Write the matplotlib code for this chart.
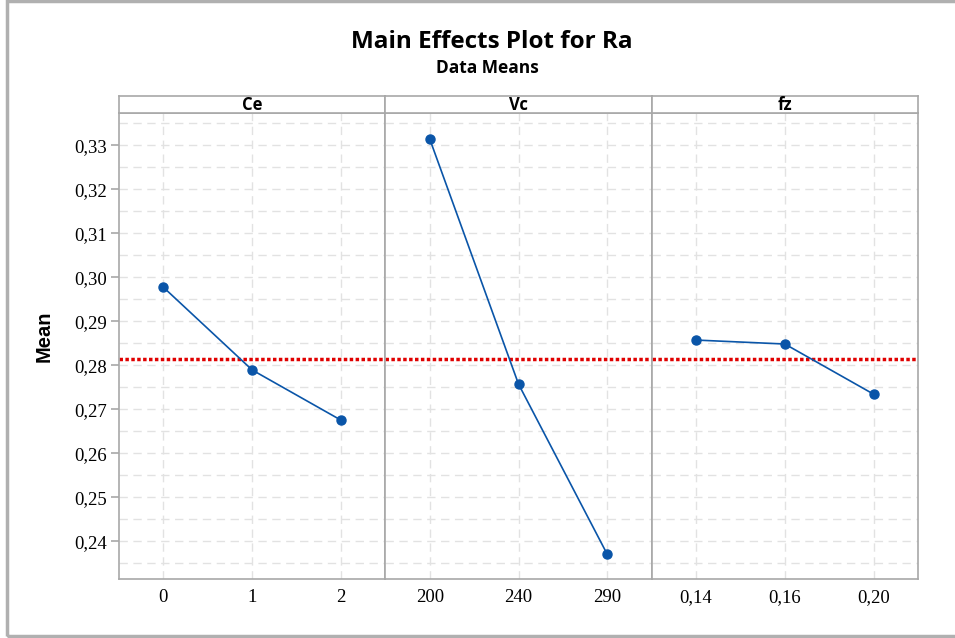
import matplotlib
matplotlib.use("Agg")
import matplotlib.pyplot as plt
from matplotlib.patches import Rectangle
import numpy as np

# ---- data ----
factors = ["Ce", "Vc", "fz"]
levels = {
    "Ce": ["0", "1", "2"],
    "Vc": ["200", "240", "290"],
    "fz": ["0,14", "0,16", "0,20"],
}
means = {
    "Ce": [0.2977, 0.2789, 0.2675],
    "Vc": [0.3314, 0.2757, 0.2370],
    "fz": [0.2857, 0.2848, 0.2734],
}
grand_mean = 0.2814
yticks = [0.24, 0.25, 0.26, 0.27, 0.28, 0.29, 0.30, 0.31, 0.32, 0.33]
ytick_labels = ["0,24", "0,25", "0,26", "0,27", "0,28", "0,29", "0,30", "0,31", "0,32", "0,33"]

W, H = 955, 638
fig = plt.figure(figsize=(W / 100, H / 100), dpi=100)

def fx(px):
    return px / W

def fy(py):
    return 1 - py / H

left, right = 119, 918
top, bottom = 113, 579
strip_top = 96
pw = (right - left) / 3

blue = "#0a55a8"
red = "#e00000"
spine_c = "#a8a8a8"
grid_c = "#e2e2e2"

# outer border
fig.patches.append(Rectangle((fx(7), fy(636)), 1.2, fy(1) - fy(636), transform=fig.transFigure,
                             fill=False, edgecolor="#b0b0b0", linewidth=2.5))

axes = []
for i, f in enumerate(factors):
    x0 = left + i * pw
    ax = fig.add_axes([fx(x0), fy(bottom), pw / W, (bottom - top) / H])
    axes.append(ax)
    x = np.arange(len(levels[f]))
    ax.set_xlim(-0.5, len(levels[f]) - 0.5)
    ax.set_ylim(0.2314, 0.3373)
    # grid
    for yv in np.arange(0.235, 0.3375, 0.005):
        ax.axhline(yv, color=grid_c, lw=1.0, ls=(0, (6, 4)), zorder=0)
    for xv in x:
        ax.axvline(xv, color=grid_c, lw=1.0, ls=(0, (6, 4)), zorder=0)
    ax.axhline(grand_mean, color=red, lw=2.5, ls=(0, (1.0, 0.7)), zorder=2)
    ax.plot(x, means[f], color=blue, lw=1.2, marker="o", ms=6.5, zorder=3)
    ax.set_xticks(x)
    ax.set_xticklabels(levels[f], fontfamily="Liberation Serif", fontsize=13.5)
    ax.tick_params(axis="x", length=0, pad=7)
    ax.set_yticks(yticks)
    if i == 0:
        ax.set_yticklabels(ytick_labels, fontfamily="Liberation Serif", fontsize=13.5)
        ax.tick_params(axis="y", length=6, color=spine_c, width=1.2, pad=3)
    else:
        ax.tick_params(axis="y", length=0, labelleft=False)
    for s in ax.spines.values():
        s.set_color(spine_c)
        s.set_linewidth(1.2)
    # strip header
    hx = fig.add_axes([fx(x0), fy(top), pw / W, (top - strip_top) / H])
    hx.set_xticks([])
    hx.set_yticks([])
    for s in hx.spines.values():
        s.set_color(spine_c)
        s.set_linewidth(1.2)
    hx.text(0.5, 0.45, f, ha="center", va="center", fontsize=12, fontweight="bold",
            fontfamily="Open Sans", transform=hx.transAxes)

axes[0].set_ylabel("Mean", fontsize=14.5, fontweight="bold", fontfamily="Liberation Sans", labelpad=10)
axes[0].yaxis.set_label_coords(-0.247, 0.52)

fig.text(fx(492), fy(42), "Main Effects Plot for Ra", ha="center", va="center",
         fontsize=17.5, fontweight="bold", fontfamily="Open Sans")
fig.text(fx(487), fy(68), "Data Means", ha="center", va="center",
         fontsize=12.5, fontweight="bold", fontfamily="Open Sans")

fig.savefig("out.png", dpi=100)
